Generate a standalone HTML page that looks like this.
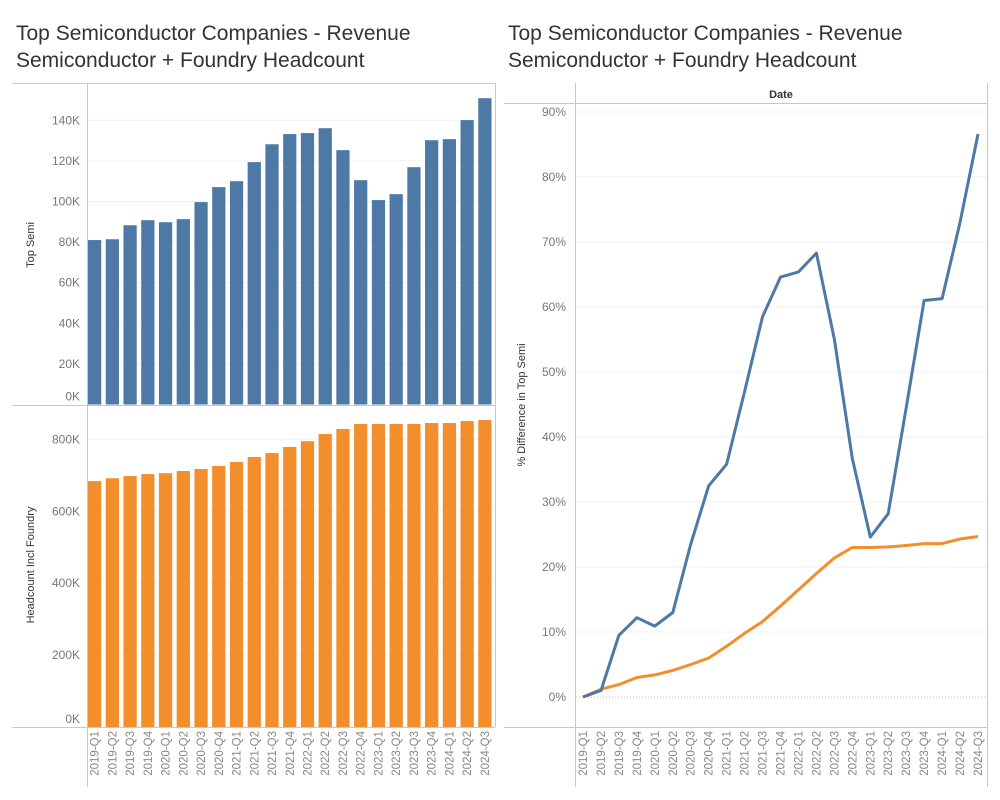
<!DOCTYPE html>
<html><head><meta charset="utf-8"><style>
body{margin:0;background:#fff;font-family:"Liberation Sans",sans-serif}
svg{display:block}
</style></head><body>
<svg id="c" width="1000" height="800" xmlns="http://www.w3.org/2000/svg">
<text x="16" y="40" font-size="21" fill="#333">Top Semiconductor Companies - Revenue</text>
<text x="16" y="67" font-size="21" fill="#333">Semiconductor + Foundry Headcount</text>
<text x="508" y="40" font-size="21" fill="#333">Top Semiconductor Companies - Revenue</text>
<text x="508" y="67" font-size="21" fill="#333">Semiconductor + Foundry Headcount</text>
<g id="grid"></g>
<g id="marks"></g>
<g id="frame" stroke="#c8c8c8" stroke-width="1">
<line x1="12" y1="83.5" x2="495" y2="83.5"/>
<line x1="495.5" y1="83" x2="495.5" y2="727"/>
<line x1="87.5" y1="83" x2="87.5" y2="787"/>
<line x1="12" y1="405.5" x2="495" y2="405.5"/>
<line x1="12" y1="727.5" x2="495" y2="727.5"/>
<line x1="504" y1="103.5" x2="987" y2="103.5"/>
<line x1="575.5" y1="83" x2="575.5" y2="787"/>
<line x1="987.5" y1="83" x2="987.5" y2="787"/>
<line x1="504" y1="727.5" x2="987" y2="727.5"/>
</g>
<text x="781" y="98" font-size="11" font-weight="bold" fill="#333" text-anchor="middle">Date</text>
<text transform="translate(34,245) rotate(-90)" font-size="11" fill="#333" text-anchor="middle">Top Semi</text>
<text transform="translate(34,565) rotate(-90)" font-size="11" fill="#333" text-anchor="middle">Headcount Incl Foundry</text>
<text transform="translate(525,405) rotate(-90)" font-size="11" fill="#333" text-anchor="middle">% Difference in Top Semi</text>
</svg>
<script>
const categories=["2019-Q1","2019-Q2","2019-Q3","2019-Q4","2020-Q1","2020-Q2","2020-Q3","2020-Q4","2021-Q1","2021-Q2","2021-Q3","2021-Q4","2022-Q1","2022-Q2","2022-Q3","2022-Q4","2023-Q1","2023-Q2","2023-Q3","2023-Q4","2024-Q1","2024-Q2","2024-Q3"];
const topSemi=[81000,81400,88300,90800,89800,91300,99700,107100,110000,119400,128200,133200,133700,136100,125300,110500,100700,103600,116900,130200,130700,140100,150900];
const headcount=[684000,692000,698000,703500,706000,712000,717500,726000,737000,751000,762000,779000,795000,815000,829000,843000,843000,843000,843000,845500,845500,851000,854000];
const pctTop=[0,1.0,9.5,12.2,10.9,13.0,23.5,32.5,35.8,47,58.5,64.6,65.4,68.3,55,36.7,24.6,28.2,44.5,61,61.3,73,86.6];
const pctHead=[0,1.2,1.9,3.0,3.4,4.1,5.0,6.0,7.8,9.8,11.6,14.0,16.5,19.0,21.4,23.0,23.0,23.1,23.3,23.6,23.6,24.3,24.7];
const topTicks=[0,20000,40000,60000,80000,100000,120000,140000];
const headTicks=[0,200000,400000,600000,800000];
const pctTicks=[0,10,20,30,40,50,60,70,80,90];

const NS="http://www.w3.org/2000/svg";
const grid=document.getElementById('grid'),marks=document.getElementById('marks');
function el(tag,attrs,parent){const e=document.createElementNS(NS,tag);for(const k in attrs)e.setAttribute(k,attrs[k]);parent.appendChild(e);return e;}
const bandL=(495-87)/categories.length;
const xL=i=>87+bandL*i+1;
const yTop=v=>404.5-v/20000*40.6;
const yHead=v=>727-v/200000*71.9;
const xR=i=>583+i*(978-583)/(categories.length-1);
const yR=v=>697-v/10*65;

topTicks.forEach(t=>{
 if(t>0){const g=el('line',{x1:88,x2:495,y1:yTop(t),y2:yTop(t),stroke:'#f0f0f0'},grid);
 
 }
 const tx=el('text',{x:80,y:yTop(t)+4-(t==0?8:0),'font-size':12,fill:'#777','text-anchor':'end'},grid);
 tx.textContent=(t/1000)+'K';
 
 
});
headTicks.forEach(t=>{
 if(t>0){const g=el('line',{x1:88,x2:495,y1:yHead(t),y2:yHead(t),stroke:'#f0f0f0'},grid);
 
 }
 const tx=el('text',{x:80,y:yHead(t)+4-(t==0?8:0),'font-size':12,fill:'#777','text-anchor':'end'},grid);
 tx.textContent=(t/1000)+'K';
 
 
});
pctTicks.forEach(t=>{
 const g=el('line',{x1:576,x2:987,y1:yR(t),y2:yR(t),stroke:t==0?'#bbb':'#f0f0f0','stroke-dasharray':t==0?'1,2':'none'},grid);
 
 
 const tx=el('text',{x:566,y:yR(t)+4,'font-size':12,fill:'#777','text-anchor':'end'},grid);
 tx.textContent=t+'%';
 
 
});
categories.forEach((c,i)=>{
 const b=el('rect',{x:xL(i),y:yTop(topSemi[i]),width:bandL-4.5,height:404.5-yTop(topSemi[i]),fill:'#4e79a7'},marks);
 
 
 const h=el('rect',{x:xL(i),y:yHead(headcount[i]),width:bandL-4.5,height:727-yHead(headcount[i]),fill:'#f28e2b'},marks);
 
 
 const cx=xL(i)+(bandL-4.5)/2;
 const t1=el('text',{transform:`translate(${cx+4},731) rotate(-90)`,'font-size':11.5,fill:'#888','text-anchor':'end'},marks);
 t1.textContent=c;
 
 
 const t2=el('text',{transform:`translate(${xR(i)+4},731) rotate(-90)`,'font-size':11.5,fill:'#888','text-anchor':'end'},marks);
 t2.textContent=c;
 
 
});
const pl=(arr)=>arr.map((v,i)=>xR(i).toFixed(1)+','+yR(v).toFixed(1)).join(' ');
const l1=el('polyline',{points:pl(pctHead),fill:'none',stroke:'#f28e2b','stroke-width':3,'stroke-linejoin':'round'},marks);


const l2=el('polyline',{points:pl(pctTop),fill:'none',stroke:'#4e79a7','stroke-width':3,'stroke-linejoin':'round'},marks);


</script>
</body></html>
